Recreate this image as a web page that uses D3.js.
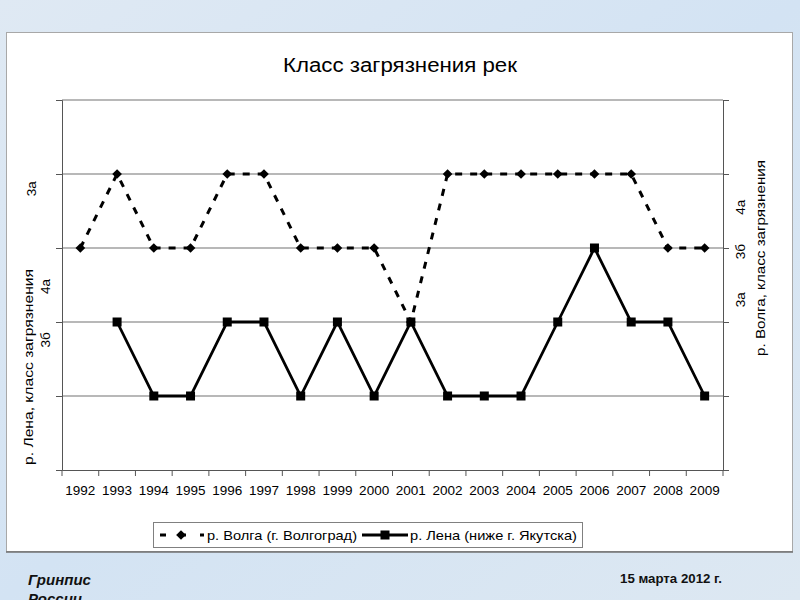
<!DOCTYPE html>
<html>
<head>
<meta charset="utf-8">
<script src="https://cdn.jsdelivr.net/npm/d3@7"></script>
<style>
  html, body { margin: 0; padding: 0; }
  body { width: 800px; height: 600px; overflow: hidden; font-family: "Liberation Sans", Arial, sans-serif; }
</style>
</head>
<body>
<svg id="chart" width="800" height="600"></svg>
<script>
// ---- data ----
const years = ["1992","1993","1994","1995","1996","1997","1998","1999","2000",
               "2001","2002","2003","2004","2005","2006","2007","2008","2009"];
// values in grid-level units (0 = x axis, 5 = top of plot)
const volga = [3,4,3,3,4,4,3,3,3,2,4,4,4,4,4,4,3,3];
const lena  = [null,2,1,1,2,2,1,2,1,2,1,1,1,2,3,2,2,1];
const gridLevels = [0,1,2,3,4,5];
const leftTickLabels  = [{t:"3а", v:3.8, dx:0}, {t:"4а", v:2.48, dx:14}, {t:"3б", v:1.76, dx:14}];
const rightTickLabels = [{t:"4а", v:3.55}, {t:"3б", v:2.95}, {t:"3а", v:2.3}];
const seriesNames = ["р. Волга (г. Волгоград)", "р. Лена (ниже г. Якутска)"];
const titleText = "Класс загрязнения рек";
const leftTitle = "р. Лена, класс загрязнения";
const rightTitle = "р. Волга, класс загрязнения";

// ---- drawing ----
const svg = d3.select("#chart");
const defs = svg.append("defs");
const bg = defs.append("linearGradient").attr("id","bg").attr("x1",0).attr("y1",0).attr("x2",1).attr("y2",1);
bg.append("stop").attr("offset","0%").attr("stop-color","#dfe9f3");
bg.append("stop").attr("offset","50%").attr("stop-color","#d3e3f3");
bg.append("stop").attr("offset","100%").attr("stop-color","#dde8f2");
svg.append("rect").attr("width",800).attr("height",600).attr("fill","url(#bg)");

// white panel
svg.append("rect").attr("x",6.5).attr("y",32.5).attr("width",786).attr("height",519)
  .attr("fill","#fff").attr("stroke","#a8a8a8").attr("stroke-width",1);
svg.append("line").attr("x1",6).attr("x2",793).attr("y1",552).attr("y2",552)
  .attr("stroke","#707070").attr("stroke-width",1.5);

const m = {left:62, right:723, top:100, bottom:470};
const x = d3.scaleBand().domain(years).range([m.left, m.right]).padding(0);
const y = d3.scaleLinear().domain([0,5]).range([m.bottom, m.top]);
const yR = d3.scaleLinear().domain([0,5]).range([m.bottom, m.top]);
const FS = "13.5px";

// gridlines
svg.append("g").selectAll("line").data(gridLevels.filter(d=>d>0)).join("line")
  .attr("x1",m.left).attr("x2",m.right)
  .attr("y1",d=>y(d)).attr("y2",d=>y(d))
  .attr("stroke","#a0a0a0").attr("stroke-width",1.5);

// left axis
const gL = svg.append("g").attr("transform",`translate(${m.left},0)`)
  .call(d3.axisLeft(y).tickValues(gridLevels).tickSize(6).tickFormat(""));
gL.selectAll("path,line").attr("stroke","#555").attr("stroke-width",1);
// right axis
const gR = svg.append("g").attr("transform",`translate(${m.right},0)`)
  .call(d3.axisRight(yR).tickValues(gridLevels).tickSize(6).tickFormat(""));
gR.selectAll("path,line").attr("stroke","#555").attr("stroke-width",1);
// bottom axis
const gB = svg.append("g").attr("transform",`translate(0,${m.bottom})`)
  .call(d3.axisBottom(x).tickSize(0).tickPadding(15));
gB.select("path").attr("stroke","#555").attr("stroke-width",1);
gB.selectAll("text").attr("font-size",FS).attr("font-family","Liberation Sans, Arial, sans-serif").attr("fill","#000");
svg.append("g").selectAll("line").data(years.concat(["end"])).join("line")
  .attr("x1",(d,i)=>m.left + i*x.bandwidth()).attr("x2",(d,i)=>m.left + i*x.bandwidth())
  .attr("y1",m.bottom).attr("y2",m.bottom+6).attr("stroke","#555");

// title
svg.append("text").attr("x",400).attr("y",72).attr("text-anchor","middle")
  .attr("font-size","20px").attr("fill","#000")
  .attr("textLength",234).attr("lengthAdjust","spacingAndGlyphs").text(titleText);

// axis titles and odd tick labels
svg.append("text").attr("transform",`translate(33,367) rotate(-90)`).attr("text-anchor","middle")
  .attr("font-size",FS).attr("textLength",196).attr("lengthAdjust","spacingAndGlyphs").text(leftTitle);
svg.selectAll(".ltl").data(leftTickLabels).join("text")
  .attr("transform",d=>`translate(${36+d.dx},${y(d.v)}) rotate(-90)`)
  .attr("text-anchor","middle").attr("font-size",FS).text(d=>d.t);
svg.append("text").attr("transform",`translate(765,258) rotate(-90)`).attr("text-anchor","middle")
  .attr("font-size",FS).attr("textLength",196).attr("lengthAdjust","spacingAndGlyphs").text(rightTitle);
svg.selectAll(".rtl").data(rightTickLabels).join("text")
  .attr("transform",d=>`translate(745,${yR(d.v)}) rotate(-90)`)
  .attr("text-anchor","middle").attr("font-size",FS).text(d=>d.t);

const cx = d => x(d) + x.bandwidth()/2;

// Volga series
const volgaPts = years.map((yr,i)=>({yr, v:volga[i]})).filter(d=>d.v!==null);
svg.append("path").datum(volgaPts)
  .attr("d", d3.line().x(d=>cx(d.yr)).y(d=>yR(d.v)))
  .attr("fill","none").attr("stroke","#000").attr("stroke-width",3).attr("stroke-dasharray","7,8");
const diamond = d3.symbol().type(d3.symbolDiamond2).size(60);
svg.append("g").selectAll("path").data(volgaPts).join("path")
  .attr("transform",d=>`translate(${cx(d.yr)},${yR(d.v)})`).attr("d",diamond).attr("fill","#000");

// Lena series
const lenaPts = years.map((yr,i)=>({yr, v:lena[i]})).filter(d=>d.v!==null);
svg.append("path").datum(lenaPts)
  .attr("d", d3.line().x(d=>cx(d.yr)).y(d=>y(d.v)))
  .attr("fill","none").attr("stroke","#000").attr("stroke-width",2.8);
svg.append("g").selectAll("rect").data(lenaPts).join("rect")
  .attr("x",d=>cx(d.yr)-4.5).attr("y",d=>y(d.v)-4.5).attr("width",9).attr("height",9).attr("fill","#000");

// legend
const lg = svg.append("g");
lg.append("rect").attr("x",153.5).attr("y",522.5).attr("width",429).attr("height",25)
  .attr("fill","#fff").attr("stroke","#808080");
lg.append("line").attr("x1",160).attr("x2",204).attr("y1",535).attr("y2",535)
  .attr("stroke","#000").attr("stroke-width",3).attr("stroke-dasharray","6,14");
lg.append("path").attr("transform","translate(181,535)").attr("d",diamond).attr("fill","#000");
lg.append("text").attr("x",207).attr("y",540).attr("font-size",FS)
  .attr("textLength",150).attr("lengthAdjust","spacingAndGlyphs").text(seriesNames[0]);
lg.append("line").attr("x1",362).attr("x2",408).attr("y1",535).attr("y2",535)
  .attr("stroke","#000").attr("stroke-width",2.8);
lg.append("rect").attr("x",380.5).attr("y",530.5).attr("width",9).attr("height",9).attr("fill","#000");
lg.append("text").attr("x",410).attr("y",540).attr("font-size",FS)
  .attr("textLength",167).attr("lengthAdjust","spacingAndGlyphs").text(seriesNames[1]);

// footer texts
svg.append("text").attr("x",28).attr("y",585).attr("font-size","15px").attr("font-weight","bold")
  .attr("font-style","italic").attr("fill","#111").text("Гринпис");
svg.append("text").attr("x",28).attr("y",604).attr("font-size","15px").attr("font-weight","bold")
  .attr("font-style","italic").attr("fill","#111").text("России");
svg.append("text").attr("x",620).attr("y",583).attr("font-size","13px").attr("font-weight","bold")
  .attr("fill","#111").attr("textLength",102).attr("lengthAdjust","spacingAndGlyphs").text("15 марта 2012 г.");
</script>
</body>
</html>
